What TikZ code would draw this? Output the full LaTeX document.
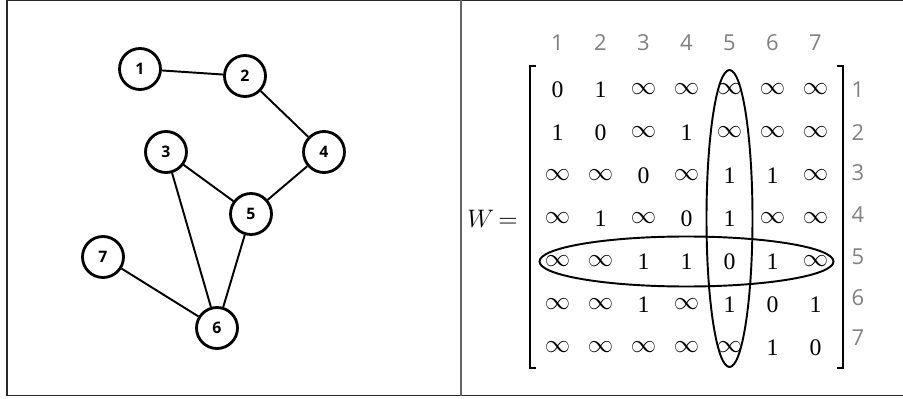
\documentclass[tikz,border=0pt]{standalone}
\usepackage{fontspec}
\setmainfont{Liberation Serif}
\newfontfamily\labelfont{Open Sans}
\usetikzlibrary{matrix,positioning}
\definecolor{labelgray}{RGB}{128,128,128}
\definecolor{framegray}{RGB}{40,40,40}
\definecolor{splitgray}{RGB}{100,100,100}
\newcommand{\inft}{$\infty$}

\begin{document}
\begin{tikzpicture}[scale=1.0,
  vertex/.style={circle,draw,line width=1.6pt,minimum size=0.82cm,inner sep=0pt,
    font=\labelfont\bfseries\fontsize{9}{11}\selectfont},
  edge/.style={line width=1.1pt},
  idx/.style={text=labelgray,font=\labelfont\fontsize{12.5}{14}\selectfont},
  ring/.style={line width=1.1pt}]
  \useasboundingbox (0,0) rectangle (18.06,7.96);
  % frame and divider
  \draw[framegray,line width=1.1pt] (18.06,7.95) -- (0.14,7.95) -- (0.14,0.05) -- (18.06,0.05);
  \draw[splitgray,line width=1.1pt] (9.22,7.95) -- (9.22,0.05);
  % graph
  \node[vertex] (n1) at (2.80,6.58) {1};
  \node[vertex] (n2) at (4.90,6.44) {2};
  \node[vertex] (n3) at (3.32,4.92) {3};
  \node[vertex] (n4) at (6.48,4.92) {4};
  \node[vertex] (n5) at (5.02,3.68) {5};
  \node[vertex] (n6) at (4.34,1.40) {6};
  \node[vertex] (n7) at (2.06,2.82) {7};
  \draw[edge] (n1) -- (n2);
  \draw[edge] (n2) -- (n4);
  \draw[edge] (n4) -- (n5);
  \draw[edge] (n3) -- (n5);
  \draw[edge] (n3) -- (n6);
  \draw[edge] (n5) -- (n6);
  \draw[edge] (n7) -- (n6);
  % weight matrix
  \matrix (W) at (13.73,3.59) [matrix of nodes, column sep=0pt, row sep=0pt,
    nodes={minimum width=0.86cm, minimum height=0.86cm, inner sep=0pt,
      anchor=center, font=\fontsize{13.5}{16}\selectfont}]
  {
    0 & 1 & \inft & \inft & \inft & \inft & \inft \\
    1 & 0 & \inft & 1 & \inft & \inft & \inft \\
    \inft & \inft & 0 & \inft & 1 & 1 & \inft \\
    \inft & 1 & \inft & 0 & 1 & \inft & \inft \\
    \inft & \inft & 1 & 1 & 0 & 1 & \inft \\
    \inft & \inft & 1 & \inft & 1 & 0 & 1 \\
    \inft & \inft & \inft & \inft & \inft & 1 & 0 \\
  };
  \draw[line width=1.1pt] ([xshift=0.12cm,yshift=-0.08cm]W.north west) -- ([yshift=-0.08cm]W.north west)
    -- ([yshift=0.14cm]W.south west) -- ([xshift=0.12cm,yshift=0.14cm]W.south west);
  \draw[line width=1.1pt] ([xshift=-0.12cm,yshift=-0.08cm]W.north east) -- ([yshift=-0.08cm]W.north east)
    -- ([yshift=0.14cm]W.south east) -- ([xshift=-0.12cm,yshift=0.14cm]W.south east);
  \node[left=0.12cm of W, font=\fontsize{15}{18}\selectfont] (lhs) {$W\,{=}$};
  % column 5 and row 5
  \draw[ring] (W-4-5) ellipse [x radius=0.46, y radius=2.97];
  \draw[ring] (W-5-4) ellipse [x radius=2.94, y radius=0.50];
  % indices
  \foreach \j in {1,...,7}
    \node[idx] (c\j) at ([yshift=0.94cm]W-1-\j) {\j};
  \foreach \i/\y in {1/6.16,2/5.30,3/4.50,4/3.66,5/2.82,6/2.00,7/1.20}
    \node[idx] (r\i) at (17.16,\y) {\i};
\end{tikzpicture}
\end{document}
